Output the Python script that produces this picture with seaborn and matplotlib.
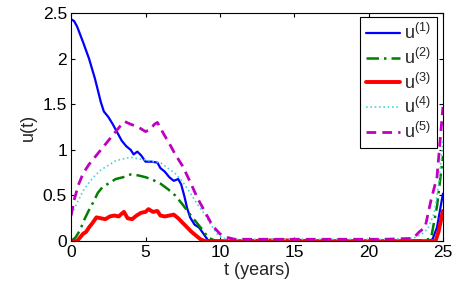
import matplotlib
matplotlib.use("Agg")
import matplotlib.pyplot as plt
import seaborn as sns

# series (t in years)
t1 = [0, 0.2, 0.4, 0.8, 1.2, 1.6, 2.0, 2.2, 2.5, 2.8, 3.1, 3.4, 3.7, 4.0, 4.2, 4.45, 4.7, 5.0,
      5.4, 5.8, 6.0, 6.3, 6.6, 6.9, 7.2, 7.4, 7.6, 7.8, 8.0, 8.3, 8.6, 8.9, 9.2, 9.6, 10, 12, 14,
      16, 18, 20, 22, 24.0, 24.3, 24.6, 25]
u1 = [2.43, 2.41, 2.35, 2.18, 2.0, 1.78, 1.52, 1.42, 1.36, 1.28, 1.19, 1.10, 1.04, 1.00, 0.95,
      0.98, 0.94, 0.87, 0.87, 0.86, 0.80, 0.76, 0.70, 0.66, 0.68, 0.62, 0.50, 0.36, 0.26, 0.18,
      0.15, 0.08, 0.01, 0, 0, 0, 0, 0, 0, 0, 0, 0, 0.02, 0.15, 0.52]

t2 = [0, 0.3, 0.6, 0.9, 1.2, 1.5, 1.8, 2.1, 2.5, 3.0, 3.5, 4.0, 4.5, 5.0, 5.5, 6.0, 6.5, 7.0,
      7.5, 8.0, 8.5, 8.8, 9.2, 9.6, 10, 12, 14, 16, 18, 20, 22, 23.8, 24.2, 24.6, 25]
u2 = [0.0, 0.04, 0.12, 0.24, 0.34, 0.43, 0.53, 0.59, 0.63, 0.68, 0.70, 0.73, 0.72, 0.70, 0.67,
      0.63, 0.57, 0.50, 0.40, 0.29, 0.19, 0.13, 0.04, 0.01, 0, 0, 0, 0, 0, 0, 0, 0.01, 0.03,
      0.38, 0.93]

t3 = [0, 0.4, 0.6, 0.8, 1.0, 1.2, 1.4, 1.7, 2.0, 2.3, 2.6, 2.9, 3.2, 3.4, 3.55, 3.8, 4.1, 4.4,
      4.7, 5.0, 5.2, 5.5, 5.8, 6.0, 6.3, 6.6, 6.9, 7.2, 7.5, 7.8, 8.1, 8.4, 8.7, 9.0, 10, 12, 14,
      16, 18, 20, 22, 24, 24.5, 24.7, 25]
u3 = [0, 0, 0.04, 0.08, 0.10, 0.15, 0.19, 0.26, 0.25, 0.24, 0.27, 0.28, 0.27, 0.30, 0.32, 0.25,
      0.24, 0.28, 0.31, 0.32, 0.35, 0.32, 0.33, 0.28, 0.27, 0.28, 0.29, 0.25, 0.20, 0.15, 0.10,
      0.06, 0.02, 0.0, 0, 0, 0.01, 0, 0, 0, 0, 0, 0, 0.1, 0.33]

t4 = [0, 0.2, 0.5, 0.8, 1.1, 1.5, 2.0, 2.5, 3.0, 3.5, 4.0, 4.5, 5.0, 5.5, 6.0, 6.5, 7.0, 7.5,
      8.0, 8.5, 9.0, 9.4, 9.8, 10.2, 11, 13, 15, 17, 19, 21, 23, 23.6, 24.0, 24.4, 24.7, 25]
u4 = [0.30, 0.35, 0.45, 0.55, 0.62, 0.70, 0.78, 0.83, 0.88, 0.90, 0.92, 0.90, 0.89, 0.87, 0.86,
      0.80, 0.74, 0.65, 0.53, 0.40, 0.29, 0.18, 0.08, 0.03, 0.02, 0.02, 0.02, 0.02, 0.02, 0.02,
      0.03, 0.08, 0.14, 0.30, 0.60, 1.1]

t5 = [0, 0.2, 0.5, 0.8, 1.2, 1.6, 2.0, 2.5, 3.0, 3.3, 3.6, 4.0, 4.5, 5.0, 5.3, 5.6, 5.8, 6.2,
      6.6, 7.0, 7.5, 8.0, 8.5, 9.0, 9.5, 10.0, 10.5, 11, 13, 15, 17, 19, 21, 23, 23.4, 23.8,
      24.2, 24.6, 25]
u5 = [0.28, 0.45, 0.62, 0.74, 0.84, 0.92, 1.0, 1.10, 1.20, 1.26, 1.31, 1.28, 1.25, 1.20, 1.22,
      1.28, 1.30, 1.18, 1.07, 0.95, 0.82, 0.65, 0.47, 0.32, 0.17, 0.08, 0.04, 0.02, 0.02, 0.02,
      0.02, 0.02, 0.02, 0.03, 0.10, 0.15, 0.45, 0.70, 1.47]

labels = [r'u$^{(1)}$', r'u$^{(2)}$', r'u$^{(3)}$', r'u$^{(4)}$', r'u$^{(5)}$']
xticks = [0, 5, 10, 15, 20, 25]
yticks = [0, 0.5, 1, 1.5, 2, 2.5]
ytick_labels = ['0', '0.5', '1', '1.5', '2', '2.5']

sns.set_style("ticks")
plt.rcParams['font.family'] = ['Liberation Sans', 'DejaVu Sans']
plt.rcParams['mathtext.fontset'] = 'custom'
plt.rcParams['mathtext.rm'] = 'Liberation Sans'
plt.rcParams['mathtext.it'] = 'Liberation Sans'

fig = plt.figure(figsize=(4.59, 2.86), dpi=100)
ax = fig.add_axes([0.155, 0.157, 0.81, 0.798])

styles = [
    dict(color='#0000ff', lw=1.6, ls='-'),
    dict(color='#008000', lw=1.8, ls=(0, (5, 2, 1, 2))),
    dict(color='#ff0000', lw=2.8, ls='-'),
    dict(color='#40d8d8', lw=1.2, ls=(0, (1, 1.6))),
    dict(color='#c000c0', lw=2.0, ls=(0, (3.5, 2.2))),
]
for t, u, lab, st in zip([t1, t2, t3, t4, t5], [u1, u2, u3, u4, u5], labels, styles):
    sns.lineplot(x=t, y=u, ax=ax, label=lab, color=st['color'], linewidth=st['lw'],
                 linestyle=st['ls'], estimator=None, sort=False)

ax.set_xlim(0, 25)
ax.set_ylim(0, 2.5)
ax.set_xticks(xticks)
ax.set_xticklabels([str(x) for x in xticks])
ax.set_yticks(yticks)
ax.set_yticklabels(ytick_labels)
ax.tick_params(direction='in', top=True, right=True, length=3, width=0.8, labelsize=12.5,
               colors='black', pad=3)
for sp in ax.spines.values():
    sp.set_color('black')
    sp.set_linewidth(0.8)
ax.set_xlabel('t (years)', fontsize=13, labelpad=1)
ax.set_ylabel('u(t)', fontsize=13, labelpad=4)

leg = ax.legend(loc='upper right', bbox_to_anchor=(0.984, 0.982), fontsize=13,
                frameon=True, fancybox=False, framealpha=1, edgecolor='black',
                handlelength=1.9, handletextpad=0.2, labelspacing=0.25, borderpad=0.35,
                borderaxespad=0)
leg.get_frame().set_linewidth(0.8)

fig.savefig('out.png', dpi=100)
